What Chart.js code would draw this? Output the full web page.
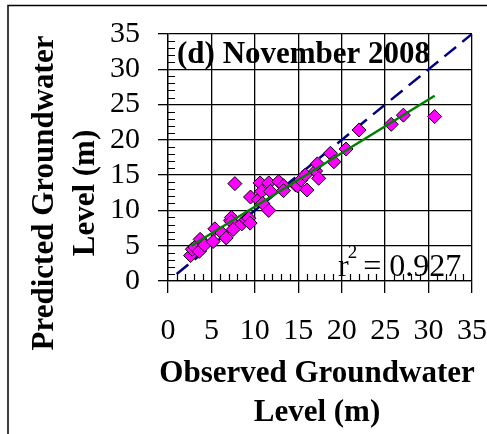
<!DOCTYPE html>
<html>
<head>
<meta charset="utf-8">
<script src="https://cdn.jsdelivr.net/npm/chart.js@4/dist/chart.umd.min.js"></script>
<style>
  html, body { margin: 0; padding: 0; background: #fff; }
  canvas { display: block; }
</style>
</head>
<body>
<canvas id="chart" width="487" height="434"></canvas>
<script>
// observed vs predicted groundwater level (m), November 2008
const observed = [2.6, 2.8, 3.1, 3.6, 3.7, 4.2, 5.2, 5.4, 6.2, 6.7, 7.2, 7.3, 7.3, 7.5, 7.7,
  8.5, 9.0, 9.3, 9.45, 9.5, 10.4, 10.6, 10.8, 10.9, 11.6, 11.6, 11.8, 12.75, 13.3, 13.3,
  14.7, 14.9, 15.3, 15.8, 16.0, 17.0, 17.2, 17.35, 18.7, 19.1, 20.5, 22.0, 25.7, 27.1, 30.7];
const predicted = [3.6, 4.5, 4.8, 4.2, 5.9, 5.1, 5.6, 7.4, 6.8, 6.1, 8.6, 9.0, 8.4, 7.3, 13.8,
  8.1, 8.7, 8.9, 8.2, 11.9, 11.5, 13.9, 12.7, 11.0, 13.9, 10.0, 12.7, 14.1, 13.5, 12.8,
  13.6, 13.5, 14.3, 15.0, 12.9, 15.6, 16.6, 14.55, 18.1, 16.9, 18.7, 21.4, 22.2, 23.5, 23.3];

// 1:1 line and fitted trend line end points
const oneToOneX = [1, 35];
const oneToOneY = [1, 35];
const trendX = [2.7, 30.7];
const trendY = [5.0, 26.25];

const axisTicks = [0, 5, 10, 15, 20, 25, 30, 35];
const panelTitle = '(d) November 2008';
const rSquared = '0.927';
const xTitle = ['Observed Groundwater', 'Level (m)'];
const yTitle = ['Predicted Groundwater', 'Level (m)'];

const serif = "'Liberation Serif', 'Times New Roman', serif";

function toPoints(xs, ys) {
    return xs.map((x, i) => ({ x: x, y: ys[i] }));
}

// minor ticks, frame, titles and labels
const decorations = {
    id: 'decorations',
    afterDraw(chart) {
        const ctx = chart.ctx;
        const area = chart.chartArea;
        const xs = chart.scales.x;
        const ys = chart.scales.y;
        ctx.save();

        // minor ticks, every 1 m
        ctx.strokeStyle = '#000';
        ctx.lineWidth = 1.2;
        ctx.beginPath();
        for (let v = 1; v < 35; v++) {
            if (v % 5 === 0) continue;
            const py = Math.round(ys.getPixelForValue(v)) + 0.5;
            ctx.moveTo(area.left, py);
            ctx.lineTo(area.left + 7, py);
            const px = Math.round(xs.getPixelForValue(v)) + 0.5;
            ctx.moveTo(px, area.bottom);
            ctx.lineTo(px, area.bottom - 7);
        }
        ctx.stroke();

        // outer frame (top and left edges)
        ctx.lineWidth = 1.5;
        ctx.beginPath();
        ctx.moveTo(8, 434);
        ctx.lineTo(8, 5.5);
        ctx.lineTo(487, 5.5);
        ctx.stroke();

        ctx.fillStyle = '#000';

        // panel title
        ctx.font = 'bold 31px ' + serif;
        ctx.textAlign = 'left';
        ctx.textBaseline = 'alphabetic';
        ctx.fillText(panelTitle, 177, 63);

        // r squared
        ctx.font = '32px ' + serif;
        let x = 338;
        ctx.fillText('r', x, 276);
        x += ctx.measureText('r').width;
        ctx.font = '19px ' + serif;
        ctx.fillText('2', x - 1, 258);
        x += ctx.measureText('2').width;
        ctx.font = '32px ' + serif;
        ctx.fillText(' = ' + rSquared, x - 3, 276);

        // axis titles
        ctx.font = 'bold 31px ' + serif;
        ctx.textAlign = 'center';
        ctx.textBaseline = 'middle';
        const cx = (area.left + area.right) / 2 - 3;
        ctx.fillText(xTitle[0], cx, 374);
        ctx.fillText(xTitle[1], cx, 413);

        ctx.translate(45, 193);
        ctx.rotate(-Math.PI / 2);
        ctx.fillText(yTitle[0], 0, 0);
        ctx.fillText(yTitle[1], 0, 41);
        ctx.restore();
    }
};

const gridStyle = (tickLength) => ({
    color: '#000',
    lineWidth: 1.3,
    tickLength: tickLength,
    tickColor: '#000',
    drawTicks: true
});

new Chart(document.getElementById('chart').getContext('2d'), {
    type: 'scatter',
    data: {
        datasets: [
            {
                type: 'line',
                data: toPoints(trendX, trendY),
                borderColor: '#008000',
                borderWidth: 2.5,
                pointRadius: 0,
                fill: false,
                order: 0
            },
            {
                data: toPoints(observed, predicted),
                pointStyle: 'rectRot',
                pointRadius: 7,
                pointHoverRadius: 7,
                backgroundColor: '#ff00ff',
                borderColor: '#000',
                borderWidth: 1,
                order: 1
            },
            {
                type: 'line',
                data: toPoints(oneToOneX, oneToOneY),
                borderColor: '#000080',
                borderWidth: 2.5,
                borderDash: [15, 8],
                pointRadius: 0,
                fill: false,
                order: 2
            }
        ]
    },
    options: {
        responsive: false,
        animation: false,
        events: [],
        layout: { padding: { left: 0, top: 34, right: 15, bottom: 0 } },
        plugins: {
            legend: { display: false },
            tooltip: { enabled: false }
        },
        scales: {
            x: {
                type: 'linear',
                min: 0,
                max: 35,
                afterBuildTicks: (scale) => { scale.ticks = axisTicks.map(v => ({ value: v })); },
                afterFit: (scale) => {
                    scale.height = 153;
                    scale.paddingLeft = 0;
                    scale.paddingRight = 0;
                },
                grid: gridStyle(12),
                border: { color: '#000', width: 1.3 },
                ticks: {
                    color: '#000',
                    padding: 20,
                    maxRotation: 0,
                    autoSkip: false,
                    font: { family: serif, size: 30 }
                }
            },
            y: {
                type: 'linear',
                min: 0,
                max: 35,
                afterBuildTicks: (scale) => { scale.ticks = axisTicks.map(v => ({ value: v })); },
                afterFit: (scale) => {
                    scale.width = 168;
                    scale.paddingTop = 0;
                    scale.paddingBottom = 0;
                },
                grid: gridStyle(10),
                border: { color: '#000', width: 1.3 },
                ticks: {
                    color: '#000',
                    padding: 18,
                    autoSkip: false,
                    font: { family: serif, size: 30 }
                }
            }
        }
    },
    plugins: [decorations]
});
</script>
</body>
</html>
